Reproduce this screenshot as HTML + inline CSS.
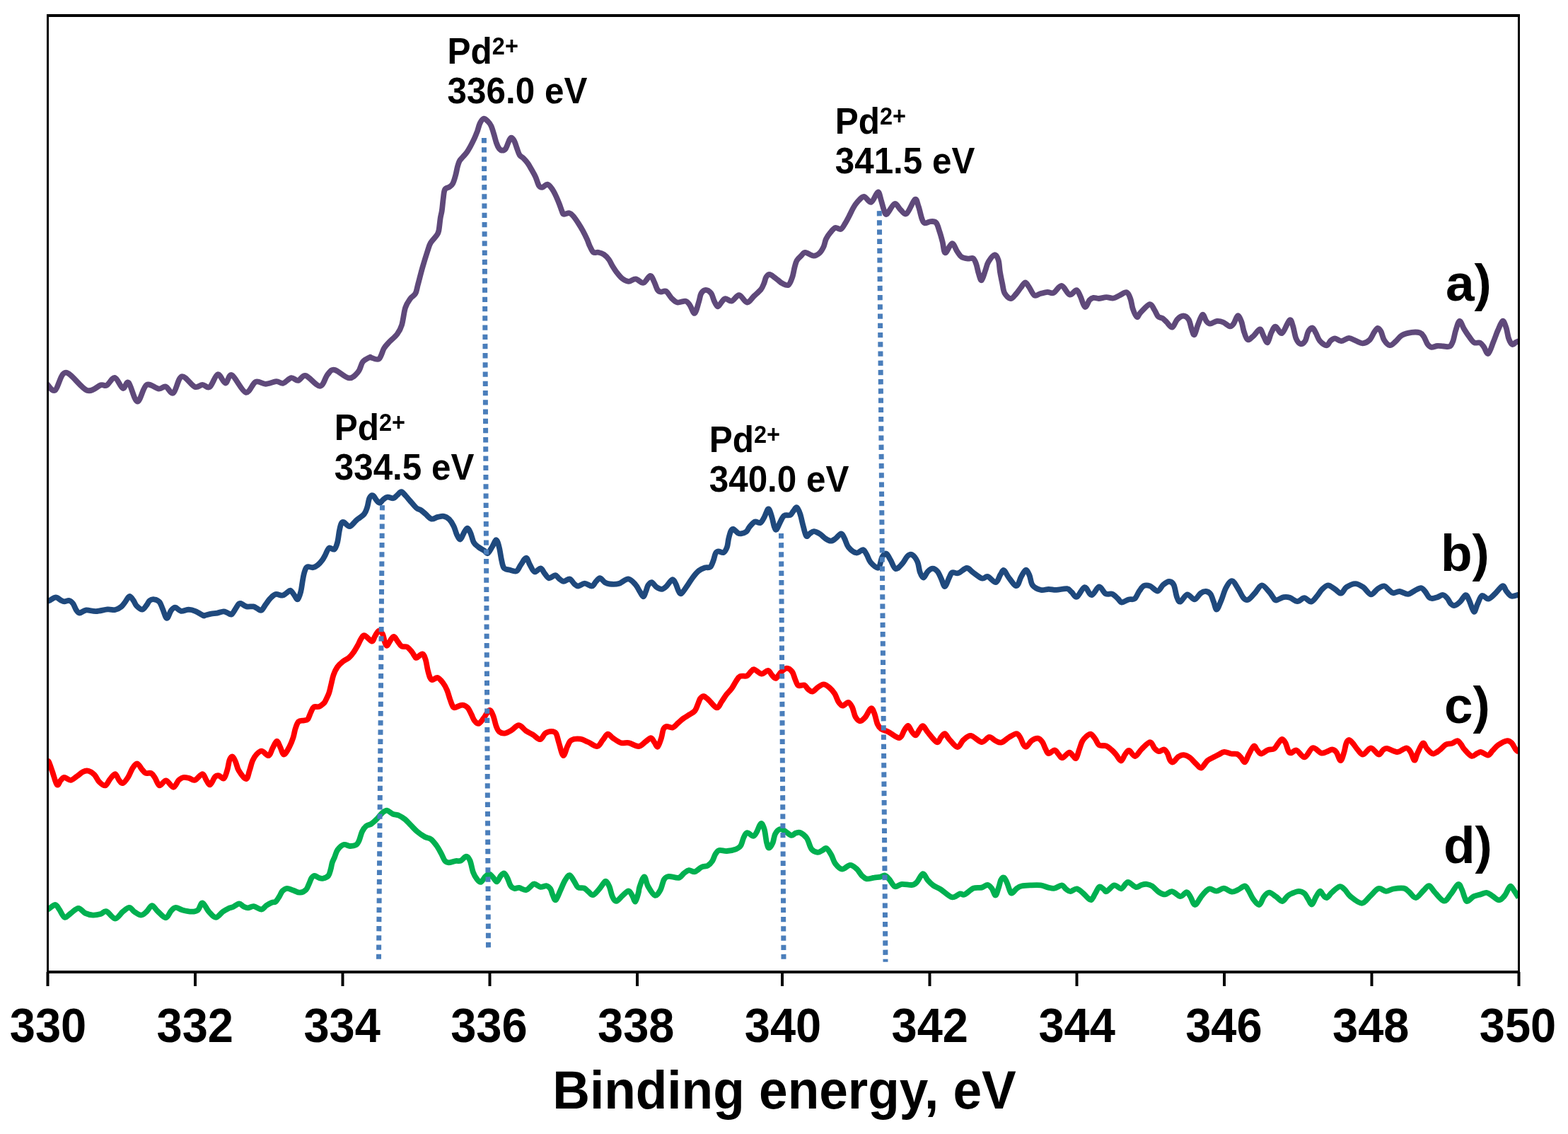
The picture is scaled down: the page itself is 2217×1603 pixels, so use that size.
<!DOCTYPE html>
<html><head><meta charset="utf-8"><title>XPS Pd 3d spectra</title>
<style>html,body{margin:0;padding:0;background:#fff;overflow:hidden;}svg{display:block;}.t{font-family:"Liberation Sans",Arial,sans-serif;font-weight:bold;}</style>
</head><body>
<svg width="2217" height="1603" viewBox="0 0 2217 1603">
<rect width="2217" height="1603" fill="#fff"/>
<path d="M66.5,542.8 C68.4,544.3 73.5,554.4 77.9,551.7 C82.3,549.0 85.5,526.7 93.0,526.7 C100.5,526.7 114.6,548.8 122.8,551.7 C131.0,554.7 137.6,545.6 142.3,544.4 C147.0,543.2 147.7,546.4 151.0,544.6 C154.3,542.9 158.5,533.2 162.3,533.9 C166.1,534.6 170.4,547.7 173.7,548.9 C176.9,550.1 178.4,537.8 181.8,540.9 C185.2,544.0 190.0,567.2 194.2,567.7 C198.4,568.2 202.1,547.2 207.2,544.2 C212.2,541.2 220.0,549.2 224.5,549.6 C229.0,550.0 230.9,545.5 234.3,546.5 C237.7,547.5 241.3,557.8 245.1,555.4 C248.9,553.0 251.9,533.6 257.0,532.2 C262.1,530.8 270.5,544.9 275.4,546.8 C280.3,548.7 282.8,543.8 286.3,543.8 C289.8,543.8 292.9,549.5 296.5,547.1 C300.1,544.7 304.2,530.2 307.9,529.3 C311.6,528.4 315.4,541.3 318.7,541.5 C322.0,541.7 323.1,528.1 327.9,530.3 C332.7,532.5 341.8,553.1 347.4,554.7 C353.0,556.3 356.7,541.8 361.4,539.8 C366.1,537.8 370.6,542.9 375.5,542.8 C380.4,542.7 386.6,539.4 390.7,539.2 C394.8,539.0 396.9,542.6 400.4,541.7 C403.9,540.9 408.3,534.7 411.8,534.1 C415.3,533.5 418.1,538.4 421.5,537.9 C424.9,537.4 427.2,529.8 432.4,531.1 C437.5,532.4 447.3,546.1 452.4,545.8 C457.5,545.5 459.8,533.1 463.2,529.3 C466.6,525.5 467.9,521.9 473.0,522.8 C478.1,523.6 487.9,533.9 493.5,534.4 C499.1,534.9 503.2,529.3 506.5,525.5 C509.8,521.7 510.3,514.8 513.0,511.4 C515.7,508.0 520.8,506.1 522.7,505.1 C524.6,504.1 522.1,504.9 524.3,505.3 C526.5,505.7 532.7,509.6 535.8,507.4 C538.9,505.2 540.6,496.2 543.0,492.3 C545.4,488.4 547.0,487.0 550.1,483.7 C553.2,480.4 558.6,476.4 561.6,472.3 C564.6,468.2 566.2,465.5 568.1,459.3 C570.0,453.1 571.1,441.2 573.1,435.0 C575.1,428.8 577.9,425.4 580.3,422.0 C582.7,418.6 585.6,418.2 587.4,414.9 C589.2,411.6 589.3,408.2 591.0,402.0 C592.7,395.8 595.2,385.5 597.5,377.6 C599.8,369.7 602.7,360.4 604.6,354.6 C606.5,348.9 606.8,346.8 609.0,343.1 C611.2,339.4 615.7,335.3 617.6,332.4 C619.5,329.5 619.6,329.8 620.4,325.9 C621.2,321.9 621.9,313.4 622.6,308.7 C623.3,304.0 624.1,302.4 624.8,297.8 C625.5,293.2 626.0,286.0 626.7,281.0 C627.4,276.0 627.5,270.7 629.0,267.9 C630.5,265.1 633.7,265.6 635.6,264.2 C637.5,262.8 638.8,262.1 640.2,259.5 C641.6,256.9 642.9,252.2 644.0,248.3 C645.1,244.4 645.9,239.5 646.8,236.1 C647.7,232.7 648.4,230.0 649.6,227.7 C650.9,225.3 652.6,224.0 654.3,222.0 C656.0,220.0 658.0,218.2 659.9,215.5 C661.8,212.8 663.6,209.5 665.5,206.1 C667.4,202.7 669.5,198.3 671.1,194.9 C672.7,191.5 673.6,189.0 674.9,185.6 C676.1,182.2 677.1,177.3 678.6,174.3 C680.1,171.3 681.8,168.3 683.7,167.8 C685.6,167.3 688.0,169.8 689.8,171.5 C691.6,173.2 693.1,175.1 694.5,178.1 C695.9,181.1 697.0,185.2 698.2,189.3 C699.5,193.4 700.8,199.0 702.0,202.4 C703.2,205.8 704.3,208.2 705.7,209.9 C707.1,211.6 708.8,212.7 710.4,212.7 C712.0,212.7 713.5,212.2 715.1,209.9 C716.7,207.6 718.5,201.2 719.8,198.7 C721.1,196.2 721.8,194.5 723.0,194.7 C724.2,194.8 726.0,197.1 727.3,199.6 C728.6,202.1 729.8,206.6 731.0,209.9 C732.2,213.2 733.1,216.9 734.7,219.2 C736.3,221.5 738.5,222.0 740.4,223.9 C742.3,225.8 744.1,227.8 746.0,230.5 C747.9,233.2 749.7,236.5 751.6,239.8 C753.5,243.1 755.5,246.3 757.2,250.1 C758.9,253.8 760.3,259.8 761.9,262.3 C763.5,264.8 764.6,265.2 766.6,264.9 C768.6,264.6 771.7,260.3 774.0,260.7 C776.3,261.1 778.6,264.2 780.6,267.0 C782.6,269.8 784.5,273.7 786.2,277.3 C787.9,280.9 789.5,284.9 790.9,288.5 C792.3,292.1 793.6,296.4 794.6,298.8 C795.6,301.2 795.3,302.4 797.0,302.8 C798.7,303.2 802.7,300.8 805.0,301.3 C807.3,301.8 808.9,303.6 811.0,306.0 C813.1,308.4 815.8,312.6 817.9,315.9 C820.0,319.2 821.9,322.2 823.9,325.9 C825.9,329.6 828.2,334.2 829.9,337.9 C831.6,341.6 832.4,344.8 833.9,347.9 C835.4,351.0 836.9,355.1 838.9,356.6 C840.9,358.1 843.4,356.3 845.9,356.8 C848.4,357.3 851.4,358.1 853.9,359.8 C856.4,361.5 858.8,364.1 860.8,366.8 C862.8,369.5 864.0,372.8 865.8,375.8 C867.6,378.8 869.5,381.8 871.8,384.8 C874.1,387.8 877.0,391.6 879.8,393.8 C882.6,396.0 885.6,397.7 888.8,397.8 C892.0,397.9 895.3,394.0 898.8,394.3 C902.3,394.6 906.3,400.6 909.7,399.8 C913.1,399.1 916.7,390.1 919.2,389.8 C921.7,389.5 923.0,394.5 924.7,397.8 C926.5,401.1 928.0,407.2 929.7,409.7 C931.4,412.2 932.7,412.4 934.7,412.7 C936.7,413.0 939.2,410.2 941.7,411.7 C944.2,413.2 947.1,419.1 949.7,421.7 C952.4,424.3 954.3,426.8 957.6,427.5 C960.9,428.2 966.6,425.0 969.6,425.7 C972.6,426.4 973.5,428.8 975.6,431.7 C977.7,434.6 980.1,443.6 982.2,442.8 C984.3,442.0 986.6,431.3 988.1,426.6 C989.6,421.9 989.8,417.5 991.4,414.7 C993.0,411.9 995.5,409.8 997.9,409.8 C1000.2,409.8 1003.5,412.1 1005.5,414.7 C1007.5,417.3 1008.3,422.4 1009.8,425.5 C1011.3,428.6 1012.9,433.1 1014.7,433.3 C1016.5,433.5 1018.8,428.5 1020.6,426.6 C1022.4,424.7 1023.1,422.3 1025.5,422.1 C1027.8,421.9 1031.5,426.3 1034.7,425.5 C1038.0,424.7 1041.4,416.9 1045.0,417.2 C1048.6,417.5 1052.8,427.3 1056.3,427.5 C1059.8,427.7 1062.8,421.5 1066.1,418.5 C1069.3,415.5 1073.4,412.3 1075.8,409.3 C1078.2,406.3 1078.9,403.6 1080.2,400.6 C1081.5,397.6 1082.0,393.5 1083.4,391.4 C1084.8,389.3 1086.1,387.3 1088.8,388.0 C1091.5,388.7 1096.7,393.6 1099.6,395.7 C1102.5,397.8 1103.6,399.4 1106.1,400.6 C1108.6,401.8 1112.4,404.2 1114.8,402.8 C1117.2,401.4 1118.8,396.1 1120.2,392.0 C1121.7,387.9 1122.4,381.9 1123.5,377.9 C1124.6,373.9 1125.1,370.9 1126.7,368.1 C1128.3,365.3 1131.2,363.0 1133.2,361.1 C1135.2,359.2 1135.7,356.7 1138.6,356.8 C1141.5,356.9 1147.1,361.6 1150.5,361.7 C1153.9,361.8 1156.9,359.5 1159.2,357.3 C1161.5,355.1 1163.1,351.9 1164.6,348.7 C1166.1,345.4 1166.4,341.1 1168.0,337.8 C1169.6,334.5 1171.8,331.4 1174.0,328.8 C1176.2,326.2 1178.5,322.8 1181.0,322.0 C1183.5,321.2 1186.6,324.9 1188.9,323.9 C1191.2,322.9 1192.9,319.1 1194.9,315.9 C1196.9,312.7 1199.1,308.4 1200.9,304.9 C1202.7,301.4 1204.1,298.1 1205.9,294.9 C1207.7,291.7 1209.3,288.7 1211.9,285.9 C1214.5,283.1 1218.1,278.0 1221.4,278.0 C1224.7,278.0 1228.5,286.8 1231.8,285.7 C1235.1,284.6 1239.0,271.9 1241.3,271.5 C1243.6,271.1 1244.4,278.8 1245.8,283.0 C1247.2,287.2 1248.5,293.6 1249.8,296.9 C1251.1,300.2 1251.3,304.1 1253.8,302.6 C1256.3,301.1 1261.6,289.2 1264.8,288.1 C1268.0,287.0 1270.0,293.6 1272.8,295.9 C1275.6,298.2 1278.2,304.4 1281.7,302.1 C1285.2,299.8 1290.9,283.6 1293.7,281.9 C1296.5,280.2 1297.0,287.2 1298.7,291.9 C1300.4,296.6 1302.2,306.0 1303.7,309.9 C1305.2,313.8 1305.7,314.9 1307.7,315.4 C1309.7,315.9 1313.1,313.2 1315.7,313.1 C1318.3,313.0 1321.4,312.4 1323.6,314.9 C1325.8,317.3 1327.1,323.3 1328.6,327.8 C1330.1,332.3 1331.3,336.9 1332.6,341.8 C1333.9,346.7 1334.3,356.9 1336.6,357.3 C1338.8,357.7 1343.3,344.4 1346.1,344.1 C1348.9,343.9 1351.3,352.6 1353.6,355.8 C1355.8,359.0 1357.1,361.7 1359.6,363.3 C1362.1,364.9 1365.7,365.4 1368.4,365.7 C1371.1,366.0 1374.0,363.9 1376.0,365.2 C1378.0,366.5 1379.0,369.8 1380.3,373.3 C1381.6,376.8 1382.3,382.5 1383.6,386.3 C1384.9,390.1 1386.3,397.0 1387.9,396.3 C1389.5,395.6 1391.7,386.4 1393.3,382.0 C1394.9,377.6 1395.4,373.6 1397.6,370.0 C1399.8,366.4 1403.9,360.7 1406.3,360.3 C1408.7,359.9 1410.4,363.9 1411.7,367.9 C1413.0,371.9 1413.0,378.7 1413.9,384.1 C1414.8,389.5 1416.0,395.3 1417.1,400.4 C1418.2,405.4 1418.4,410.8 1420.4,414.4 C1422.4,418.0 1426.3,422.0 1429.0,422.2 C1431.7,422.4 1434.2,418.1 1436.6,415.5 C1438.9,412.9 1440.9,409.6 1443.1,406.9 C1445.3,404.2 1447.6,399.5 1449.6,399.3 C1451.6,399.1 1452.8,402.8 1455.0,405.8 C1457.2,408.8 1459.9,416.0 1462.6,417.5 C1465.3,419.0 1468.1,415.8 1471.2,415.0 C1474.3,414.2 1477.9,413.0 1481.0,412.8 C1484.1,412.6 1486.3,415.4 1489.6,413.9 C1492.9,412.4 1497.2,403.6 1501.0,404.0 C1504.8,404.4 1508.9,415.6 1512.4,416.6 C1515.9,417.6 1519.6,409.7 1522.1,410.1 C1524.6,410.5 1525.5,414.8 1527.5,418.8 C1529.5,422.8 1531.8,433.0 1534.0,433.9 C1536.2,434.8 1538.5,426.4 1540.5,424.2 C1542.5,422.0 1543.8,421.3 1546.0,420.9 C1548.2,420.5 1550.5,422.1 1553.5,422.0 C1556.5,421.9 1560.9,420.2 1564.3,420.1 C1567.7,420.0 1571.0,421.9 1574.1,421.5 C1577.2,421.1 1579.5,419.1 1582.7,417.7 C1585.9,416.3 1590.4,412.5 1593.0,413.3 C1595.6,414.1 1597.0,418.6 1598.4,422.5 C1599.9,426.4 1600.2,432.2 1601.7,436.5 C1603.2,440.8 1605.8,447.2 1607.6,448.1 C1609.4,449.0 1609.5,445.0 1612.5,442.0 C1615.5,439.0 1622.2,430.8 1625.5,430.1 C1628.8,429.4 1630.0,434.7 1632.0,437.6 C1634.0,440.5 1635.4,445.3 1637.4,447.4 C1639.4,449.5 1641.9,448.8 1643.9,450.1 C1645.9,451.4 1647.0,452.9 1649.3,455.0 C1651.5,457.1 1654.9,463.2 1657.4,462.7 C1659.9,462.1 1661.8,454.4 1664.4,451.7 C1667.0,449.0 1670.4,446.5 1673.1,446.5 C1675.8,446.5 1678.7,448.5 1680.7,451.7 C1682.7,454.9 1683.7,462.2 1685.0,465.8 C1686.3,469.4 1687.3,474.2 1688.8,473.1 C1690.2,472.0 1691.8,464.0 1693.7,459.3 C1695.6,454.6 1698.2,445.6 1700.2,444.7 C1702.2,443.8 1703.8,451.7 1705.6,453.9 C1707.4,456.1 1708.5,457.7 1711.0,457.7 C1713.5,457.7 1717.6,454.3 1720.7,453.9 C1723.8,453.5 1726.3,454.2 1729.4,455.5 C1732.5,456.8 1736.6,461.1 1739.1,461.4 C1741.6,461.7 1742.7,459.6 1744.5,457.1 C1746.3,454.6 1748.2,446.7 1750.0,446.3 C1751.8,445.9 1754.0,451.4 1755.4,455.0 C1756.8,458.6 1757.2,463.7 1758.6,467.9 C1760.0,472.1 1761.7,479.0 1764.0,480.1 C1766.3,481.2 1769.8,476.8 1772.7,474.4 C1775.6,472.0 1779.1,465.3 1781.4,465.5 C1783.8,465.7 1785.0,472.4 1786.8,475.5 C1788.6,478.6 1790.4,485.1 1792.2,484.2 C1794.0,483.3 1795.7,473.9 1797.6,470.1 C1799.5,466.4 1801.0,461.6 1803.5,461.7 C1806.0,461.8 1809.4,472.4 1812.7,470.9 C1816.0,469.4 1820.7,454.1 1823.3,452.5 C1825.9,450.9 1826.6,456.8 1828.1,461.1 C1829.6,465.4 1830.7,474.3 1832.5,478.5 C1834.3,482.7 1836.8,485.7 1839.0,486.2 C1841.2,486.7 1843.7,484.6 1845.5,481.7 C1847.3,478.8 1848.1,471.7 1849.8,468.7 C1851.5,465.7 1854.0,463.1 1855.8,463.5 C1857.6,463.9 1858.9,467.9 1860.6,470.9 C1862.3,473.9 1863.5,478.8 1866.0,481.7 C1868.5,484.6 1873.3,488.4 1875.8,488.4 C1878.3,488.4 1879.2,483.4 1881.2,481.7 C1883.2,480.0 1885.2,478.2 1887.7,478.3 C1890.2,478.4 1893.0,482.3 1896.3,482.2 C1899.5,482.1 1903.8,478.0 1907.2,477.9 C1910.6,477.8 1913.7,480.5 1916.9,481.7 C1920.2,482.9 1923.5,485.5 1926.7,485.3 C1930.0,485.1 1933.7,483.2 1936.4,480.6 C1939.1,478.0 1941.0,472.6 1942.9,469.8 C1944.8,467.0 1946.2,464.0 1947.8,463.8 C1949.4,463.6 1951.1,465.9 1952.6,468.7 C1954.1,471.5 1954.9,477.4 1957.0,480.6 C1959.1,483.9 1962.4,487.8 1965.1,488.2 C1967.8,488.6 1970.4,485.1 1973.2,482.8 C1976.0,480.5 1978.1,476.2 1981.9,474.1 C1985.7,472.0 1991.8,470.5 1996.1,469.9 C2000.4,469.3 2004.9,469.5 2007.8,470.5 C2010.7,471.5 2011.4,473.2 2013.2,475.9 C2015.0,478.6 2016.8,484.3 2018.6,486.8 C2020.4,489.3 2021.7,490.4 2024.0,490.8 C2026.3,491.2 2029.3,489.2 2032.2,489.0 C2035.1,488.8 2038.2,489.4 2041.2,489.5 C2044.2,489.6 2047.9,490.9 2050.2,489.5 C2052.4,488.1 2053.3,485.1 2054.7,481.3 C2056.0,477.5 2056.8,471.5 2058.3,466.9 C2059.8,462.3 2061.7,454.1 2063.7,453.8 C2065.7,453.5 2067.8,461.4 2070.1,465.1 C2072.4,468.8 2074.9,472.7 2077.3,475.9 C2079.7,479.1 2081.9,482.9 2084.5,484.3 C2087.1,485.7 2090.3,483.5 2092.6,484.5 C2094.8,485.5 2096.1,487.8 2098.0,490.4 C2099.9,492.9 2102.0,501.0 2104.3,499.8 C2106.6,498.6 2109.3,488.6 2111.6,483.1 C2113.9,477.6 2115.7,471.8 2117.9,466.9 C2120.1,462.0 2122.7,454.4 2124.6,453.8 C2126.5,453.2 2128.2,459.2 2129.6,463.3 C2131.0,467.4 2131.8,474.7 2133.2,478.6 C2134.6,482.5 2136.5,486.0 2138.2,486.9 C2139.8,487.8 2141.6,484.8 2143.1,484.0 C2144.6,483.2 2146.5,482.5 2147.2,482.2" fill="none" stroke="#5F497A" stroke-width="7.8" stroke-linejoin="round" stroke-linecap="butt"/>
<path d="M66.5,850.1 C67.2,849.8 68.7,849.4 70.8,848.4 C72.9,847.4 76.4,844.4 78.9,844.4 C81.4,844.4 84.0,847.4 86.0,848.4 C88.0,849.4 88.9,850.2 90.9,850.3 C92.9,850.4 95.8,848.5 97.9,849.0 C100.0,849.5 101.7,851.1 103.3,853.3 C104.9,855.5 106.1,859.8 107.6,862.0 C109.1,864.2 110.2,866.4 112.5,866.5 C114.8,866.6 117.8,862.9 121.7,862.5 C125.6,862.1 130.8,864.3 135.8,864.1 C140.9,863.9 147.5,861.8 152.0,861.4 C156.5,861.0 159.6,862.6 162.8,862.0 C166.1,861.4 169.2,859.4 171.5,857.6 C173.8,855.8 175.0,853.5 176.9,851.1 C178.8,848.7 180.9,843.4 182.9,843.0 C184.9,842.6 187.1,846.8 188.8,849.0 C190.5,851.2 191.1,854.4 193.2,856.5 C195.3,858.6 199.0,861.9 201.3,861.7 C203.6,861.5 205.5,857.6 207.2,855.5 C208.9,853.4 209.8,850.4 211.6,849.0 C213.4,847.6 215.8,846.9 218.1,847.3 C220.4,847.6 223.6,848.8 225.6,851.1 C227.6,853.4 228.3,857.1 230.0,860.9 C231.7,864.7 233.9,873.5 235.9,873.9 C237.9,874.2 239.9,865.5 241.9,863.0 C243.9,860.5 245.5,858.6 247.8,858.7 C250.1,858.8 252.7,863.3 255.9,863.8 C259.1,864.3 263.4,861.7 266.8,861.7 C270.2,861.8 273.1,862.7 276.5,864.1 C279.9,865.5 285.1,869.1 287.3,870.1 C289.6,871.1 288.1,870.3 290.0,869.9 C291.9,869.5 295.8,868.2 298.7,867.7 C301.6,867.2 304.4,867.2 307.3,866.6 C310.2,866.0 313.6,864.5 316.0,864.4 C318.4,864.3 319.5,865.4 321.4,866.1 C323.3,866.8 325.3,869.5 327.3,868.5 C329.3,867.5 331.6,862.6 333.3,860.1 C335.0,857.6 336.3,854.8 337.6,853.6 C338.9,852.4 339.1,852.5 340.9,853.1 C342.7,853.7 345.6,856.7 348.5,857.4 C351.4,858.1 355.7,856.9 358.2,857.4 C360.7,857.9 361.7,859.2 363.6,860.1 C365.5,861.0 367.6,863.7 369.6,862.8 C371.6,861.9 373.4,857.5 375.5,854.7 C377.6,851.9 379.6,848.4 382.0,846.0 C384.4,843.6 386.7,840.8 389.6,840.1 C392.5,839.4 396.8,842.0 399.3,841.7 C401.8,841.4 402.9,839.7 404.8,838.5 C406.7,837.3 408.9,834.4 410.7,834.7 C412.5,835.1 413.9,838.5 415.6,840.6 C417.3,842.7 419.4,848.0 421.0,847.3 C422.6,846.6 424.2,840.3 425.3,836.3 C426.4,832.3 426.8,827.4 427.5,823.3 C428.2,819.1 428.8,814.8 429.7,811.4 C430.6,808.0 431.8,804.4 432.9,802.7 C434.0,801.0 434.5,801.2 436.1,801.1 C437.7,801.0 440.4,802.6 442.6,802.2 C444.8,801.8 446.9,800.6 449.1,798.9 C451.3,797.2 453.8,794.3 455.6,791.9 C457.4,789.5 458.4,787.2 460.0,784.3 C461.6,781.4 463.1,776.0 465.2,774.7 C467.3,773.4 470.7,777.9 472.7,776.5 C474.7,775.1 475.9,771.0 477.1,766.6 C478.3,762.2 478.9,754.8 479.8,750.4 C480.7,746.0 481.4,742.1 482.5,740.1 C483.6,738.1 484.3,737.5 486.3,738.2 C488.3,738.9 491.4,744.6 494.4,744.1 C497.4,743.6 500.7,738.1 504.1,735.2 C507.5,732.3 512.5,729.6 515.0,726.5 C517.5,723.4 518.0,720.6 519.3,716.8 C520.5,713.0 521.1,706.5 522.5,703.8 C523.9,701.1 525.8,699.8 527.4,700.4 C529.0,701.0 530.7,705.4 532.3,707.1 C533.9,708.9 535.5,711.1 537.1,710.9 C538.7,710.7 540.2,707.4 542.0,706.0 C543.8,704.6 545.6,703.0 548.0,702.7 C550.4,702.4 553.9,704.8 556.1,704.3 C558.4,703.8 559.6,701.5 561.5,700.0 C563.4,698.5 565.5,695.1 567.5,695.2 C569.5,695.3 571.3,698.5 573.4,700.6 C575.5,702.8 577.4,705.2 579.9,708.1 C582.4,711.0 586.1,715.7 588.6,717.9 C591.1,720.1 592.9,719.7 595.1,721.1 C597.3,722.5 599.1,724.4 601.6,726.5 C604.1,728.6 607.3,732.9 610.2,733.6 C613.1,734.3 616.0,731.5 618.9,730.9 C621.8,730.3 624.8,729.3 627.5,729.8 C630.2,730.3 632.8,731.8 635.1,734.1 C637.5,736.5 639.8,740.3 641.6,743.9 C643.4,747.5 644.4,752.7 645.9,755.8 C647.4,758.9 649.2,762.9 650.8,762.5 C652.4,762.1 654.1,756.2 655.7,753.6 C657.3,751.0 659.0,746.6 660.6,746.6 C662.2,746.6 663.9,750.3 665.4,753.6 C666.9,756.9 668.0,763.4 669.8,766.6 C671.6,769.9 673.8,771.1 676.3,773.1 C678.8,775.1 682.7,777.0 684.9,778.5 C687.1,780.0 687.8,783.0 689.7,782.0 C691.6,781.0 694.2,775.6 696.2,772.5 C698.2,769.4 700.1,762.9 701.7,763.3 C703.3,763.6 704.8,769.8 706.0,774.6 C707.2,779.4 708.1,787.3 709.2,792.0 C710.3,796.7 710.7,800.5 712.5,802.8 C714.3,805.0 717.1,804.8 720.1,805.5 C723.1,806.2 727.6,808.5 730.3,807.3 C733.0,806.1 734.0,801.6 736.3,798.5 C738.6,795.4 741.7,788.7 743.9,788.7 C746.1,788.7 747.3,795.2 749.3,798.5 C751.3,801.8 753.3,807.6 755.8,808.4 C758.3,809.2 762.0,803.0 764.4,803.3 C766.8,803.6 767.9,808.0 769.9,810.4 C771.9,812.8 773.8,816.9 776.3,817.4 C778.8,817.9 782.6,813.0 785.0,813.1 C787.4,813.2 788.4,816.4 790.4,817.9 C792.4,819.4 794.4,821.8 796.9,821.9 C799.4,822.0 803.1,817.9 805.6,818.5 C808.1,819.1 810.1,823.8 812.1,825.5 C814.1,827.2 815.1,828.6 817.5,828.5 C819.9,828.4 823.5,824.7 826.7,824.7 C830.0,824.7 834.4,828.9 837.0,828.5 C839.6,828.1 840.5,824.2 842.4,822.3 C844.3,820.4 846.1,817.0 848.3,817.2 C850.5,817.4 853.1,822.0 855.4,823.4 C857.7,824.8 858.6,825.2 861.9,825.5 C865.1,825.8 870.5,826.2 874.9,825.0 C879.3,823.8 884.4,818.0 888.4,818.3 C892.4,818.6 896.1,823.8 898.7,826.6 C901.3,829.4 902.3,832.5 904.1,835.3 C905.9,838.1 908.0,843.3 909.5,843.4 C911.0,843.5 912.1,838.7 913.2,836.1 C914.3,833.5 914.9,829.7 916.2,827.5 C917.6,825.4 919.4,822.7 921.4,823.1 C923.4,823.5 926.0,828.5 928.4,830.1 C930.8,831.7 933.6,833.1 936.0,832.8 C938.4,832.5 940.1,830.8 942.5,828.5 C944.9,826.2 948.4,819.8 950.6,819.3 C952.8,818.8 954.0,822.5 955.5,825.3 C957.0,828.1 958.4,833.9 959.8,836.1 C961.1,838.4 961.8,839.9 963.6,838.8 C965.4,837.7 968.0,833.3 970.6,829.6 C973.2,825.9 976.4,820.4 979.3,816.6 C982.2,812.8 985.0,809.2 987.9,806.9 C990.8,804.5 993.9,803.4 996.6,802.5 C999.3,801.6 1002.2,803.1 1004.2,801.5 C1006.2,799.9 1007.2,796.0 1008.5,792.8 C1009.8,789.5 1010.6,784.2 1011.8,782.0 C1013.0,779.8 1013.6,779.5 1015.5,779.3 C1017.4,779.1 1021.0,781.9 1023.1,780.9 C1025.2,779.9 1026.8,776.5 1028.0,773.3 C1029.2,770.0 1029.3,765.2 1030.2,761.4 C1031.1,757.6 1032.3,752.9 1033.4,750.6 C1034.5,748.4 1035.1,747.5 1036.7,747.9 C1038.3,748.3 1041.4,752.2 1043.2,753.3 C1045.0,754.4 1045.5,754.7 1047.5,754.4 C1049.5,754.1 1053.1,753.2 1055.1,751.7 C1057.1,750.2 1057.4,747.6 1059.4,745.2 C1061.4,742.9 1064.4,738.7 1067.0,737.6 C1069.6,736.5 1072.9,740.0 1075.2,738.9 C1077.5,737.8 1078.7,734.4 1080.6,731.1 C1082.5,727.9 1084.7,719.4 1086.5,719.4 C1088.3,719.4 1090.1,727.0 1091.4,731.1 C1092.8,735.2 1093.5,741.2 1094.6,744.1 C1095.7,747.0 1096.5,749.6 1097.9,748.5 C1099.4,747.4 1101.5,740.9 1103.3,737.6 C1105.1,734.4 1106.3,730.6 1108.7,729.0 C1111.1,727.4 1115.2,729.0 1117.4,727.9 C1119.6,726.8 1120.2,724.3 1121.7,722.5 C1123.2,720.7 1125.0,716.6 1126.6,717.3 C1128.2,718.0 1129.9,722.3 1131.4,726.8 C1132.9,731.3 1134.3,739.0 1135.8,744.1 C1137.2,749.2 1138.5,756.1 1140.1,757.7 C1141.7,759.3 1143.7,755.0 1145.5,753.9 C1147.3,752.8 1148.6,751.0 1150.9,751.2 C1153.2,751.4 1156.9,753.3 1159.6,755.0 C1162.3,756.7 1164.7,759.8 1167.2,761.4 C1169.7,763.0 1172.5,764.7 1174.8,764.7 C1177.1,764.7 1178.8,763.1 1181.2,761.4 C1183.6,759.7 1187.2,754.4 1189.4,754.4 C1191.6,754.4 1192.5,758.2 1194.2,761.4 C1195.9,764.6 1196.8,770.0 1199.6,773.4 C1202.4,776.8 1207.6,780.9 1211.0,781.5 C1214.4,782.1 1217.8,776.6 1220.2,777.1 C1222.6,777.6 1223.8,781.2 1225.6,784.2 C1227.4,787.2 1228.3,791.9 1231.0,795.0 C1233.7,798.1 1239.2,803.9 1241.9,802.6 C1244.6,801.3 1245.4,790.7 1247.3,787.4 C1249.2,784.1 1251.2,781.9 1253.2,782.6 C1255.2,783.3 1257.0,788.2 1259.2,791.8 C1261.4,795.4 1263.5,803.1 1266.2,804.0 C1268.9,804.9 1272.6,800.2 1275.4,797.2 C1278.2,794.2 1280.7,788.5 1283.0,786.3 C1285.3,784.1 1287.2,782.9 1289.5,784.2 C1291.8,785.5 1295.2,789.8 1297.1,793.9 C1299.0,798.0 1299.4,805.2 1300.8,809.0 C1302.2,812.8 1303.9,816.8 1305.7,816.6 C1307.5,816.4 1309.5,810.1 1311.7,807.9 C1313.9,805.7 1316.4,803.6 1318.7,803.6 C1321.0,803.6 1323.6,805.4 1325.7,807.9 C1327.8,810.4 1329.4,815.2 1331.1,818.7 C1332.8,822.2 1334.2,829.4 1336.0,829.0 C1337.8,828.6 1340.3,819.9 1342.0,816.6 C1343.7,813.3 1344.1,810.4 1346.3,809.3 C1348.5,808.2 1351.6,811.1 1355.0,810.1 C1358.4,809.1 1363.5,803.2 1366.9,803.0 C1370.3,802.8 1371.9,806.6 1375.5,809.0 C1379.1,811.4 1385.0,816.6 1388.5,817.6 C1392.0,818.6 1393.3,814.2 1396.6,815.1 C1399.8,816.0 1405.0,823.7 1408.0,823.2 C1411.0,822.7 1412.6,815.1 1414.5,812.2 C1416.4,809.4 1417.4,805.4 1419.4,806.1 C1421.4,806.8 1423.4,812.9 1426.4,816.6 C1429.4,820.3 1434.3,828.4 1437.2,828.2 C1440.1,828.0 1441.5,819.2 1443.7,815.5 C1445.9,811.8 1448.2,806.1 1450.2,805.7 C1452.2,805.3 1454.0,809.7 1455.6,813.3 C1457.2,816.9 1457.3,823.9 1460.0,827.4 C1462.7,830.9 1468.1,833.1 1471.9,834.0 C1475.7,834.9 1479.1,832.8 1482.7,832.8 C1486.3,832.8 1489.2,834.0 1493.5,833.9 C1497.8,833.8 1505.1,831.7 1508.7,832.2 C1512.3,832.7 1512.9,835.2 1515.2,837.1 C1517.5,839.0 1519.7,844.8 1522.7,843.6 C1525.8,842.4 1530.1,830.5 1533.5,830.1 C1536.9,829.7 1539.9,841.3 1543.3,841.2 C1546.7,841.1 1550.8,829.8 1554.1,829.5 C1557.4,829.2 1560.1,837.6 1563.3,839.3 C1566.5,841.0 1570.1,838.6 1573.0,839.8 C1575.9,841.0 1578.4,844.3 1580.6,846.3 C1582.8,848.2 1583.5,851.3 1586.0,851.5 C1588.5,851.7 1592.7,848.3 1595.8,847.4 C1598.9,846.5 1601.9,848.3 1604.4,846.3 C1606.9,844.3 1608.7,838.5 1610.9,835.5 C1613.1,832.5 1614.9,829.3 1617.4,828.1 C1619.9,826.9 1622.8,827.2 1626.1,828.4 C1629.3,829.6 1633.8,835.8 1636.9,835.5 C1640.0,835.2 1641.8,829.0 1644.5,826.8 C1647.2,824.5 1650.7,822.0 1653.2,822.0 C1655.7,822.0 1657.8,823.1 1659.6,826.8 C1661.4,830.5 1662.5,840.1 1664.0,844.1 C1665.5,848.1 1666.5,851.2 1668.9,850.6 C1671.3,850.0 1675.3,840.8 1678.6,840.3 C1681.9,839.8 1685.8,847.7 1688.9,847.4 C1692.1,847.1 1694.8,840.6 1697.5,838.7 C1700.2,836.8 1702.8,835.8 1705.1,836.0 C1707.4,836.2 1709.8,837.4 1711.6,839.8 C1713.4,842.2 1714.5,847.0 1715.9,850.6 C1717.4,854.2 1718.5,861.9 1720.3,861.5 C1722.1,861.1 1724.6,853.6 1726.8,848.5 C1729.0,843.4 1730.8,835.6 1733.3,831.1 C1735.8,826.6 1739.0,821.0 1741.9,821.2 C1744.8,821.4 1747.9,828.2 1750.6,832.2 C1753.3,836.2 1755.8,842.7 1758.2,845.2 C1760.6,847.8 1762.4,848.8 1765.2,847.5 C1768.0,846.2 1771.8,841.0 1774.9,837.6 C1778.1,834.2 1780.8,827.5 1784.1,827.3 C1787.3,827.1 1791.8,833.7 1794.4,836.5 C1797.0,839.3 1798.2,842.1 1799.8,844.1 C1801.4,846.1 1801.6,848.5 1804.1,848.5 C1806.6,848.5 1811.8,844.7 1815.0,844.1 C1818.2,843.5 1820.4,843.7 1823.6,844.7 C1826.8,845.7 1831.0,850.0 1834.4,850.1 C1837.8,850.2 1841.0,845.1 1844.2,845.2 C1847.5,845.3 1850.8,851.1 1853.9,850.6 C1857.0,850.1 1860.1,844.9 1862.6,842.0 C1865.1,839.1 1866.6,835.8 1869.1,833.3 C1871.6,830.8 1874.6,827.4 1877.7,827.3 C1880.8,827.2 1884.4,830.9 1887.5,832.8 C1890.6,834.7 1893.4,839.2 1896.1,838.7 C1898.8,838.2 1900.3,832.4 1903.7,830.1 C1907.1,827.9 1912.2,825.2 1916.2,825.2 C1920.2,825.2 1923.8,827.6 1927.5,830.1 C1931.2,832.6 1935.0,839.9 1938.4,840.3 C1941.8,840.6 1944.9,834.2 1948.1,832.2 C1951.2,830.2 1954.8,828.2 1957.3,828.4 C1959.8,828.6 1961.2,831.7 1963.3,833.3 C1965.4,834.9 1967.2,837.8 1969.8,838.2 C1972.4,838.7 1975.5,835.7 1979.0,836.0 C1982.5,836.3 1987.1,840.1 1990.7,839.9 C1994.3,839.7 1997.5,836.2 2000.6,834.7 C2003.7,833.2 2006.8,830.9 2009.2,831.1 C2011.6,831.3 2013.1,833.9 2015.0,836.1 C2016.9,838.3 2018.7,842.6 2020.4,844.2 C2022.1,845.9 2023.0,846.0 2025.0,846.0 C2027.0,846.0 2029.7,845.0 2032.2,844.2 C2034.8,843.4 2037.9,840.7 2040.3,841.0 C2042.7,841.3 2044.8,844.0 2046.6,846.0 C2048.4,848.0 2049.4,851.5 2051.1,853.2 C2052.8,854.9 2054.2,856.5 2056.5,856.0 C2058.8,855.5 2062.0,853.0 2064.6,850.5 C2067.2,848.0 2070.2,841.4 2072.3,841.1 C2074.4,840.8 2075.4,844.8 2077.3,848.7 C2079.2,852.6 2082.1,863.8 2084.0,864.7 C2085.9,865.6 2087.1,857.9 2089.0,854.1 C2090.9,850.3 2092.8,843.2 2095.3,842.0 C2097.9,840.8 2101.3,847.1 2104.3,846.7 C2107.3,846.3 2110.0,842.8 2113.4,839.7 C2116.8,836.6 2121.9,829.0 2124.6,828.2 C2127.3,827.5 2127.6,832.8 2129.6,835.2 C2131.6,837.6 2133.9,841.7 2136.8,842.6 C2139.7,843.5 2145.5,840.9 2147.2,840.6" fill="none" stroke="#1F497D" stroke-width="7.8" stroke-linejoin="round" stroke-linecap="butt"/>
<path d="M66.5,1076.0 C67.0,1076.2 67.9,1074.8 69.2,1077.3 C70.5,1079.8 72.2,1085.6 74.1,1090.9 C76.0,1096.2 78.6,1107.3 80.6,1109.3 C82.6,1111.3 84.3,1104.5 86.0,1102.8 C87.7,1101.1 88.6,1099.0 90.9,1099.0 C93.2,1099.0 97.1,1103.1 100.1,1102.8 C103.1,1102.5 105.8,1099.4 108.7,1097.4 C111.6,1095.4 114.7,1092.2 117.4,1090.9 C120.1,1089.6 122.3,1089.1 125.0,1089.8 C127.7,1090.5 131.1,1092.7 133.6,1095.2 C136.1,1097.7 137.6,1102.5 140.1,1105.0 C142.6,1107.5 146.3,1111.0 148.8,1110.4 C151.3,1109.9 153.0,1104.4 155.3,1101.7 C157.6,1099.0 160.6,1093.9 162.8,1094.1 C165.0,1094.3 166.5,1100.6 168.3,1102.8 C170.1,1105.0 171.5,1107.8 173.7,1107.1 C175.8,1106.4 178.9,1102.1 181.2,1098.5 C183.5,1094.9 185.5,1088.7 187.7,1085.5 C189.9,1082.3 192.0,1079.2 194.2,1079.5 C196.4,1079.8 198.7,1085.3 200.7,1087.6 C202.7,1089.8 203.9,1092.1 206.1,1093.0 C208.3,1093.9 211.5,1091.9 213.7,1093.0 C215.9,1094.1 217.1,1096.6 219.1,1099.5 C221.1,1102.4 223.0,1109.8 225.6,1110.4 C228.2,1111.0 231.6,1102.9 234.8,1103.3 C238.1,1103.7 242.1,1112.9 245.1,1112.8 C248.1,1112.7 250.3,1105.1 252.7,1102.8 C255.0,1100.5 256.7,1099.5 259.2,1099.0 C261.7,1098.5 265.1,1099.5 267.8,1100.1 C270.5,1100.7 272.3,1103.8 275.4,1102.8 C278.5,1101.8 283.6,1094.1 286.3,1094.1 C289.0,1094.1 289.9,1100.3 291.7,1102.8 C293.5,1105.3 295.0,1110.1 297.1,1109.3 C299.2,1108.5 302.0,1100.2 304.1,1098.0 C306.2,1095.8 307.4,1096.0 309.5,1096.4 C311.6,1096.8 314.5,1101.8 316.5,1100.4 C318.5,1099.1 320.0,1092.7 321.4,1088.3 C322.8,1083.9 323.3,1077.3 324.6,1074.2 C325.9,1071.1 327.6,1069.1 329.0,1069.6 C330.4,1070.1 331.9,1074.1 333.3,1077.4 C334.7,1080.7 335.2,1085.3 337.6,1089.3 C340.0,1093.3 345.4,1101.2 347.9,1101.2 C350.4,1101.2 351.3,1093.6 352.8,1089.3 C354.3,1085.0 355.5,1079.1 357.1,1075.3 C358.7,1071.5 360.3,1068.9 362.5,1066.6 C364.7,1064.3 367.2,1061.4 370.1,1061.7 C373.0,1062.0 377.4,1068.8 379.9,1068.2 C382.4,1067.6 383.4,1061.3 385.3,1057.9 C387.2,1054.5 389.4,1048.1 391.2,1047.7 C393.0,1047.3 394.4,1052.7 396.1,1055.8 C397.8,1058.9 399.3,1066.6 401.5,1066.6 C403.7,1066.6 406.9,1059.8 409.1,1055.8 C411.3,1051.8 413.1,1047.1 414.5,1042.8 C415.9,1038.5 416.4,1033.6 417.7,1029.8 C419.0,1026.0 420.1,1022.0 422.1,1020.1 C424.1,1018.2 427.4,1019.0 429.6,1018.4 C431.8,1017.8 433.5,1018.7 435.1,1016.8 C436.7,1014.9 438.0,1010.0 439.4,1007.1 C440.8,1004.2 441.7,1000.9 443.7,999.5 C445.7,998.1 448.9,999.8 451.3,998.9 C453.7,998.0 456.4,995.3 457.8,994.1 C459.2,992.9 458.5,993.9 459.7,991.5 C460.9,989.1 463.8,983.8 465.2,979.6 C466.6,975.5 467.3,970.9 468.4,966.6 C469.5,962.3 470.2,957.6 471.7,953.6 C473.1,949.6 475.0,945.9 477.1,942.8 C479.2,939.7 481.9,937.4 484.6,935.2 C487.3,933.0 490.8,932.0 493.3,929.8 C495.8,927.6 497.6,925.3 499.8,922.2 C502.0,919.1 504.5,914.6 506.3,911.4 C508.1,908.1 509.1,904.9 510.6,902.7 C512.1,900.5 513.0,897.6 515.5,898.2 C518.0,898.8 523.4,906.3 525.8,906.5 C528.2,906.7 528.5,902.0 530.1,899.5 C531.7,897.0 533.7,892.2 535.5,891.7 C537.3,891.2 539.4,893.5 540.9,896.2 C542.4,898.9 543.1,905.4 544.2,908.1 C545.3,910.8 546.0,913.2 547.4,912.5 C548.8,911.8 551.2,905.9 552.8,903.8 C554.4,901.7 555.6,899.5 557.2,900.0 C558.8,900.5 560.8,904.8 562.6,907.1 C564.4,909.4 565.8,912.4 568.0,913.6 C570.2,914.9 573.2,913.4 575.6,914.6 C578.0,915.9 580.3,918.9 582.1,921.1 C583.9,923.3 585.2,926.2 586.4,927.6 C587.6,929.0 587.3,930.3 589.1,929.8 C590.9,929.3 595.1,924.0 597.2,924.4 C599.3,924.8 600.3,928.2 601.6,932.0 C602.9,935.8 603.7,942.8 604.8,947.1 C605.9,951.4 606.9,955.5 608.0,957.9 C609.1,960.2 609.5,961.2 611.3,961.2 C613.1,961.2 616.4,957.3 618.9,958.0 C621.4,958.7 624.3,962.6 626.5,965.5 C628.7,968.4 630.3,971.5 631.9,975.3 C633.5,979.1 635.0,984.7 636.2,988.3 C637.5,991.9 638.3,994.9 639.4,996.9 C640.5,998.9 640.4,1000.3 642.7,1000.3 C645.1,1000.2 650.4,996.6 653.5,996.6 C656.6,996.6 658.9,998.0 661.1,1000.2 C663.3,1002.4 664.9,1006.8 666.5,1009.9 C668.1,1013.0 669.1,1016.4 670.8,1018.6 C672.5,1020.8 674.6,1023.5 676.8,1022.9 C679.0,1022.3 681.3,1018.4 683.8,1015.3 C686.3,1012.2 689.6,1004.7 691.9,1004.1 C694.1,1003.5 695.7,1007.9 697.3,1011.7 C698.9,1015.5 700.2,1023.0 701.7,1026.8 C703.2,1030.6 704.0,1032.8 706.0,1034.4 C708.0,1036.0 710.7,1037.0 713.6,1036.6 C716.5,1036.2 720.0,1034.1 723.3,1032.2 C726.6,1030.3 730.2,1025.0 733.6,1025.2 C737.0,1025.4 740.6,1031.0 743.9,1033.3 C747.2,1035.5 750.3,1036.7 753.6,1038.7 C756.9,1040.7 761.0,1045.6 763.9,1045.2 C766.8,1044.8 768.3,1038.5 770.9,1036.6 C773.5,1034.7 777.1,1033.8 779.6,1033.8 C782.1,1033.8 784.3,1033.8 786.1,1036.6 C787.9,1039.4 788.7,1045.4 790.4,1050.6 C792.1,1055.8 794.4,1067.3 796.4,1068.0 C798.4,1068.7 800.4,1058.6 802.3,1055.0 C804.2,1051.4 804.6,1048.0 807.7,1046.3 C810.8,1044.6 816.7,1044.2 820.7,1044.7 C824.7,1045.2 827.6,1047.3 831.6,1049.0 C835.6,1050.7 841.1,1055.5 844.5,1055.0 C847.9,1054.5 849.6,1049.2 852.1,1046.3 C854.6,1043.4 856.9,1038.1 859.2,1037.6 C861.6,1037.0 863.1,1040.9 866.2,1043.0 C869.4,1045.1 874.3,1048.9 878.1,1050.1 C881.9,1051.3 884.8,1049.3 888.9,1050.1 C893.0,1050.9 899.0,1055.3 903.0,1055.0 C907.0,1054.7 909.8,1050.5 912.7,1048.5 C915.6,1046.5 918.2,1043.0 920.3,1043.1 C922.4,1043.2 923.6,1047.0 925.2,1049.1 C926.8,1051.2 928.4,1056.5 930.0,1055.6 C931.6,1054.7 933.5,1047.8 934.9,1043.7 C936.2,1039.6 936.8,1033.5 938.1,1030.7 C939.4,1027.9 940.3,1027.3 942.5,1026.9 C944.7,1026.5 948.4,1029.3 951.1,1028.5 C953.8,1027.7 956.2,1024.2 958.7,1022.0 C961.2,1019.8 963.6,1017.5 966.3,1015.5 C969.0,1013.5 972.3,1011.9 975.0,1010.1 C977.7,1008.3 980.5,1007.2 982.5,1004.7 C984.5,1002.2 985.6,997.9 986.9,995.0 C988.2,992.1 988.8,989.2 990.1,987.4 C991.5,985.6 993.0,983.8 995.0,984.1 C997.0,984.5 998.9,986.8 1002.0,989.5 C1005.1,992.2 1010.3,1000.0 1013.4,1000.4 C1016.5,1000.8 1018.1,994.8 1020.4,991.7 C1022.6,988.6 1024.6,985.1 1026.9,982.0 C1029.2,978.9 1032.2,976.5 1034.5,973.3 C1036.8,970.0 1039.0,965.4 1041.0,962.5 C1043.0,959.6 1043.9,957.2 1046.4,956.0 C1048.9,954.8 1053.6,956.5 1056.1,955.4 C1058.6,954.3 1059.9,951.0 1061.6,949.5 C1063.3,948.0 1063.9,945.7 1066.4,946.2 C1068.9,946.7 1073.5,952.4 1076.7,952.7 C1080.0,953.0 1083.4,947.5 1085.9,947.9 C1088.4,948.3 1090.0,953.1 1091.9,954.9 C1093.8,956.7 1095.3,959.4 1097.3,958.7 C1099.3,958.0 1101.3,953.0 1103.8,950.6 C1106.3,948.2 1109.7,944.8 1112.4,944.6 C1115.1,944.4 1118.0,946.9 1120.0,949.5 C1122.0,952.1 1122.8,957.0 1124.3,960.3 C1125.8,963.5 1126.5,967.6 1128.7,969.0 C1130.9,970.4 1135.0,967.5 1137.3,968.4 C1139.6,969.3 1140.8,972.9 1142.7,974.4 C1144.6,975.9 1146.5,978.0 1148.7,977.6 C1151.0,977.2 1153.6,973.4 1156.2,971.7 C1158.8,970.0 1161.7,967.3 1164.4,967.3 C1167.1,967.3 1169.9,969.5 1172.5,971.7 C1175.1,973.9 1177.9,976.9 1180.1,980.3 C1182.3,983.7 1183.6,989.3 1185.5,992.2 C1187.4,995.1 1189.1,997.5 1191.4,997.6 C1193.7,997.7 1197.2,992.4 1199.5,992.8 C1201.8,993.2 1203.4,996.5 1205.0,999.8 C1206.6,1003.1 1207.5,1009.5 1209.3,1012.8 C1211.1,1016.0 1213.4,1019.1 1215.8,1019.3 C1218.2,1019.5 1220.8,1016.9 1223.4,1013.9 C1226.0,1010.9 1229.3,1002.3 1231.5,1001.4 C1233.7,1000.5 1234.8,1004.8 1236.3,1008.5 C1237.8,1012.2 1239.1,1019.9 1240.7,1023.6 C1242.3,1027.3 1243.6,1028.8 1246.1,1030.6 C1248.6,1032.4 1251.6,1032.3 1255.8,1034.4 C1260.0,1036.5 1267.7,1043.4 1271.5,1043.1 C1275.3,1042.8 1276.5,1035.2 1278.6,1032.3 C1280.7,1029.4 1282.2,1025.4 1284.0,1025.8 C1285.8,1026.2 1287.6,1032.2 1289.4,1034.4 C1291.2,1036.7 1293.0,1039.8 1294.8,1039.3 C1296.6,1038.8 1298.5,1033.4 1300.2,1031.2 C1301.9,1029.0 1303.1,1025.6 1305.1,1026.3 C1307.1,1027.0 1308.8,1031.7 1312.1,1035.5 C1315.3,1039.3 1321.5,1048.0 1324.6,1049.1 C1327.7,1050.2 1328.6,1044.0 1330.5,1042.0 C1332.4,1040.0 1333.9,1036.5 1335.9,1037.1 C1337.9,1037.6 1339.4,1042.1 1342.4,1045.3 C1345.4,1048.5 1350.5,1055.9 1353.8,1056.1 C1357.0,1056.3 1358.8,1049.0 1361.9,1046.3 C1365.1,1043.6 1368.4,1039.5 1372.7,1039.9 C1377.0,1040.4 1383.6,1048.7 1387.9,1049.0 C1392.2,1049.3 1395.4,1042.2 1398.7,1041.9 C1402.0,1041.6 1405.0,1046.0 1407.9,1047.3 C1410.8,1048.6 1412.9,1050.3 1416.0,1049.5 C1419.1,1048.7 1422.8,1044.6 1426.3,1042.5 C1429.8,1040.4 1434.4,1037.1 1437.1,1037.1 C1439.8,1037.1 1440.9,1040.0 1442.5,1042.5 C1444.1,1045.0 1445.5,1050.0 1446.9,1052.2 C1448.4,1054.4 1449.2,1056.4 1451.2,1055.5 C1453.2,1054.6 1456.1,1048.8 1458.8,1046.8 C1461.5,1044.8 1464.9,1043.2 1467.4,1043.6 C1469.9,1044.0 1472.1,1046.5 1473.9,1049.0 C1475.7,1051.5 1476.8,1056.0 1478.3,1058.7 C1479.8,1061.4 1480.4,1064.9 1482.6,1065.2 C1484.8,1065.5 1488.8,1060.1 1491.2,1060.3 C1493.6,1060.5 1494.9,1064.5 1496.7,1066.3 C1498.5,1068.1 1499.6,1071.7 1502.1,1071.2 C1504.6,1070.8 1509.3,1064.0 1511.8,1063.6 C1514.3,1063.1 1515.6,1067.2 1517.2,1068.5 C1518.8,1069.8 1520.1,1073.2 1521.6,1071.7 C1523.0,1070.2 1524.5,1063.8 1525.9,1059.8 C1527.3,1055.8 1528.6,1051.0 1530.2,1047.9 C1531.8,1044.8 1533.6,1043.1 1535.6,1041.4 C1537.6,1039.7 1539.9,1037.1 1542.1,1037.6 C1544.3,1038.1 1546.6,1042.0 1548.6,1044.6 C1550.6,1047.2 1551.5,1051.7 1554.0,1053.3 C1556.5,1054.9 1560.9,1053.3 1563.8,1054.4 C1566.7,1055.5 1569.1,1057.8 1571.4,1059.8 C1573.7,1061.8 1575.5,1063.7 1577.8,1066.3 C1580.0,1068.9 1582.7,1075.5 1584.9,1075.5 C1587.1,1075.5 1588.9,1068.7 1590.8,1066.3 C1592.7,1063.9 1593.9,1060.5 1596.3,1060.9 C1598.7,1061.4 1601.9,1069.3 1604.9,1069.0 C1607.9,1068.7 1610.6,1062.3 1614.1,1059.0 C1617.6,1055.7 1622.9,1049.4 1626.0,1049.2 C1629.1,1049.0 1630.4,1055.7 1632.5,1057.9 C1634.6,1060.1 1636.2,1061.9 1638.4,1062.2 C1640.7,1062.5 1643.9,1059.0 1646.0,1059.5 C1648.1,1060.0 1649.6,1063.1 1650.9,1065.5 C1652.2,1067.9 1652.8,1072.1 1654.1,1074.1 C1655.4,1076.1 1656.5,1078.1 1658.5,1077.4 C1660.5,1076.7 1663.5,1071.5 1666.0,1069.8 C1668.5,1068.1 1670.9,1066.9 1673.6,1067.1 C1676.3,1067.3 1679.4,1068.8 1682.3,1070.9 C1685.2,1073.0 1688.2,1077.1 1690.9,1079.5 C1693.6,1081.9 1695.8,1086.2 1698.5,1085.5 C1701.2,1084.8 1704.1,1077.8 1707.2,1075.2 C1710.3,1072.6 1714.2,1071.2 1716.9,1069.8 C1719.6,1068.3 1721.1,1067.7 1723.4,1066.5 C1725.8,1065.3 1728.1,1063.0 1731.0,1062.8 C1733.9,1062.6 1737.6,1065.0 1740.7,1065.5 C1743.8,1066.0 1747.1,1065.1 1749.4,1066.0 C1751.8,1066.9 1753.0,1069.0 1754.8,1070.9 C1756.6,1072.8 1758.4,1078.1 1760.2,1077.4 C1762.0,1076.7 1763.5,1070.3 1765.6,1066.5 C1767.7,1062.7 1770.7,1055.7 1772.7,1054.6 C1774.7,1053.5 1775.8,1058.3 1777.5,1060.1 C1779.2,1061.9 1780.5,1065.5 1783.0,1065.5 C1785.5,1065.5 1789.6,1061.3 1792.7,1060.1 C1795.8,1058.9 1799.1,1059.9 1801.4,1058.4 C1803.8,1057.0 1804.9,1053.7 1806.8,1051.4 C1808.7,1049.2 1810.9,1045.1 1812.7,1044.9 C1814.5,1044.7 1816.1,1047.4 1817.6,1050.3 C1819.1,1053.2 1820.6,1059.8 1821.9,1062.2 C1823.2,1064.6 1823.8,1064.7 1825.7,1064.4 C1827.6,1064.1 1830.2,1059.6 1833.3,1060.6 C1836.4,1061.6 1840.8,1070.8 1844.6,1070.3 C1848.4,1069.8 1852.1,1058.3 1856.0,1057.3 C1859.9,1056.3 1864.7,1063.5 1867.9,1064.4 C1871.2,1065.3 1872.9,1063.6 1875.5,1062.8 C1878.1,1062.0 1881.3,1059.4 1883.6,1059.5 C1885.9,1059.6 1887.5,1060.7 1889.5,1063.3 C1891.5,1065.9 1893.7,1075.2 1895.5,1075.2 C1897.3,1075.2 1899.1,1067.5 1900.4,1063.3 C1901.8,1059.1 1902.3,1053.2 1903.6,1050.3 C1904.8,1047.4 1906.3,1045.8 1907.9,1046.0 C1909.5,1046.2 1911.4,1049.1 1913.4,1051.4 C1915.4,1053.8 1917.6,1057.6 1919.9,1060.1 C1922.2,1062.6 1924.3,1067.0 1927.4,1066.5 C1930.5,1066.0 1934.7,1057.3 1938.3,1057.3 C1941.9,1057.3 1946.2,1066.0 1949.1,1066.5 C1952.0,1067.0 1953.6,1061.5 1955.6,1060.1 C1957.6,1058.7 1958.5,1057.6 1961.0,1057.9 C1963.5,1058.2 1968.0,1060.9 1970.7,1061.7 C1973.4,1062.5 1974.2,1063.5 1977.2,1062.8 C1980.2,1062.1 1985.7,1057.2 1988.6,1057.3 C1991.5,1057.4 1992.7,1060.4 1994.6,1063.3 C1996.5,1066.2 1998.4,1074.5 2000.0,1074.7 C2001.6,1074.9 2002.3,1068.4 2004.3,1064.4 C2006.3,1060.4 2009.7,1051.7 2011.9,1050.6 C2014.1,1049.5 2015.0,1055.4 2017.3,1057.9 C2019.6,1060.4 2022.9,1065.1 2026.0,1065.5 C2029.1,1065.9 2032.7,1062.3 2035.7,1060.1 C2038.8,1057.9 2041.4,1054.0 2044.3,1052.5 C2047.2,1051.0 2050.3,1051.8 2053.0,1050.9 C2055.7,1050.0 2058.4,1046.8 2060.6,1047.1 C2062.8,1047.4 2064.4,1050.5 2066.0,1052.5 C2067.6,1054.5 2067.9,1056.3 2070.3,1059.0 C2072.7,1061.7 2077.5,1067.7 2080.6,1068.7 C2083.7,1069.7 2086.4,1065.9 2088.7,1064.9 C2090.9,1064.0 2091.6,1062.5 2094.1,1063.0 C2096.6,1063.5 2101.2,1067.9 2103.9,1067.6 C2106.6,1067.3 2108.0,1063.5 2110.4,1061.1 C2112.8,1058.7 2115.1,1055.3 2118.5,1053.0 C2121.9,1050.7 2127.8,1047.5 2130.9,1047.1 C2134.1,1046.6 2135.4,1048.3 2137.4,1050.3 C2139.4,1052.3 2141.1,1056.8 2142.8,1059.0 C2144.5,1061.2 2146.9,1062.6 2147.7,1063.3" fill="none" stroke="#FF0000" stroke-width="7.8" stroke-linejoin="round" stroke-linecap="butt"/>
<path d="M66.5,1286.5 C67.2,1286.0 68.8,1284.5 70.8,1283.3 C72.8,1282.0 76.2,1278.6 78.4,1279.0 C80.6,1279.4 81.6,1282.5 83.8,1285.5 C86.0,1288.5 88.7,1295.9 91.4,1296.8 C94.1,1297.7 96.8,1293.1 100.1,1290.9 C103.3,1288.7 107.5,1283.8 110.9,1283.8 C114.3,1283.8 117.2,1289.3 120.6,1290.9 C124.0,1292.5 127.8,1293.4 131.4,1293.6 C135.0,1293.8 139.1,1292.9 142.3,1292.0 C145.5,1291.1 147.0,1287.1 150.4,1288.2 C153.8,1289.3 158.9,1298.4 162.8,1298.5 C166.7,1298.6 170.3,1291.3 173.7,1288.7 C177.0,1286.1 180.2,1282.8 182.9,1282.8 C185.6,1282.8 187.1,1286.9 189.9,1288.7 C192.7,1290.5 196.7,1293.6 199.6,1293.6 C202.5,1293.6 204.7,1291.0 207.2,1288.7 C209.7,1286.5 212.3,1280.3 214.8,1280.1 C217.3,1279.9 219.2,1284.7 222.4,1287.6 C225.7,1290.5 231.1,1297.4 234.3,1297.4 C237.6,1297.4 239.6,1290.0 241.9,1287.6 C244.2,1285.2 245.7,1283.0 248.4,1282.8 C251.1,1282.6 254.3,1285.5 258.1,1286.5 C261.9,1287.5 267.5,1288.7 271.1,1288.7 C274.7,1288.7 277.3,1288.6 279.8,1286.5 C282.3,1284.4 283.7,1275.9 286.3,1276.3 C288.9,1276.7 292.2,1285.4 295.4,1288.8 C298.5,1292.2 301.9,1296.9 305.2,1296.9 C308.4,1296.9 312.0,1290.9 314.9,1288.8 C317.8,1286.7 320.0,1285.6 322.5,1284.4 C325.0,1283.2 327.5,1282.9 330.1,1281.7 C332.7,1280.5 335.9,1277.5 338.2,1277.4 C340.5,1277.3 342.0,1280.2 344.1,1281.2 C346.2,1282.2 348.2,1283.4 350.6,1283.4 C353.0,1283.4 355.5,1280.9 358.7,1281.2 C361.9,1281.5 366.6,1285.7 369.6,1285.5 C372.6,1285.3 374.2,1281.7 376.6,1280.1 C379.0,1278.5 382.0,1276.7 384.2,1275.8 C386.4,1274.9 387.8,1276.2 389.6,1274.7 C391.4,1273.2 393.4,1269.6 395.0,1267.1 C396.6,1264.6 397.5,1261.4 399.3,1259.5 C401.1,1257.6 403.3,1256.0 405.8,1255.8 C408.3,1255.6 411.4,1257.5 414.5,1258.5 C417.6,1259.5 421.1,1261.9 424.2,1261.7 C427.3,1261.5 430.7,1259.6 432.9,1257.4 C435.1,1255.2 435.9,1251.4 437.2,1248.7 C438.5,1246.0 439.2,1242.9 440.5,1241.1 C441.8,1239.3 443.0,1237.9 444.8,1237.9 C446.6,1237.9 449.3,1240.5 451.3,1241.1 C453.3,1241.7 454.5,1242.2 456.7,1241.7 C458.9,1241.2 462.5,1240.0 464.3,1237.9 C466.1,1235.8 466.6,1232.3 467.5,1229.2 C468.4,1226.1 468.8,1222.4 469.7,1219.5 C470.6,1216.6 471.7,1214.9 473.0,1211.9 C474.3,1208.9 475.1,1204.4 477.3,1201.4 C479.5,1198.4 483.1,1194.8 486.0,1193.9 C488.9,1193.0 491.7,1195.9 494.6,1196.0 C497.5,1196.1 501.1,1195.7 503.3,1194.4 C505.5,1193.2 506.2,1191.7 507.6,1188.5 C509.1,1185.3 510.4,1178.9 512.0,1175.5 C513.6,1172.1 515.2,1169.7 517.4,1167.9 C519.6,1166.1 522.5,1166.2 525.0,1164.6 C527.5,1163.0 530.0,1160.6 532.5,1158.1 C535.0,1155.6 537.7,1151.6 540.1,1149.5 C542.5,1147.4 544.6,1145.5 547.1,1145.7 C549.6,1145.9 552.5,1149.4 555.3,1150.6 C558.1,1151.8 561.0,1151.5 563.9,1152.7 C566.8,1154.0 569.7,1155.8 572.6,1158.1 C575.5,1160.4 578.3,1163.9 581.2,1166.8 C584.1,1169.7 586.6,1172.8 589.9,1175.5 C593.1,1178.2 597.5,1181.2 600.7,1183.0 C604.0,1184.8 606.7,1184.3 609.4,1186.3 C612.1,1188.3 614.6,1191.8 617.0,1195.0 C619.4,1198.2 621.5,1202.2 623.5,1205.8 C625.5,1209.4 627.1,1214.3 628.9,1216.6 C630.7,1218.8 631.8,1219.2 634.3,1219.3 C636.8,1219.4 641.1,1217.5 644.0,1217.1 C646.9,1216.6 649.1,1217.7 651.6,1216.6 C654.1,1215.5 657.0,1210.6 659.2,1210.6 C661.4,1210.6 663.0,1212.9 664.6,1216.6 C666.2,1220.3 667.3,1228.5 668.9,1232.8 C670.5,1237.1 672.5,1240.2 674.3,1242.6 C676.1,1244.9 677.8,1247.5 679.8,1246.9 C681.8,1246.3 684.2,1241.1 686.2,1239.2 C688.2,1237.3 689.9,1235.2 691.7,1235.4 C693.5,1235.6 695.3,1238.5 697.1,1240.3 C698.9,1242.1 700.7,1246.8 702.5,1246.4 C704.3,1246.0 706.2,1240.1 707.9,1238.1 C709.6,1236.1 711.2,1233.9 712.8,1234.4 C714.4,1235.0 716.1,1238.4 717.6,1241.4 C719.1,1244.4 720.4,1249.8 722.0,1252.2 C723.6,1254.6 725.4,1255.5 727.4,1256.0 C729.4,1256.5 731.2,1254.5 733.9,1254.9 C736.6,1255.3 740.9,1258.5 743.6,1258.2 C746.3,1257.9 748.1,1254.8 750.1,1253.3 C752.1,1251.8 753.1,1249.4 755.5,1249.5 C757.9,1249.6 761.3,1253.3 764.2,1253.8 C767.1,1254.2 770.4,1251.8 772.8,1252.2 C775.1,1252.7 776.8,1254.3 778.3,1256.5 C779.8,1258.7 780.2,1262.6 781.5,1265.2 C782.8,1267.8 784.0,1273.3 785.8,1272.2 C787.6,1271.1 790.1,1263.3 792.3,1258.7 C794.5,1254.1 796.6,1248.2 798.8,1244.6 C801.0,1241.0 803.1,1236.9 805.3,1237.1 C807.5,1237.3 809.8,1242.8 811.8,1245.7 C813.8,1248.6 814.9,1252.8 817.2,1254.4 C819.6,1256.0 823.5,1254.6 825.9,1255.5 C828.2,1256.4 829.2,1258.2 831.3,1259.8 C833.4,1261.4 835.8,1265.6 838.3,1265.2 C840.8,1264.8 844.0,1260.3 846.5,1257.6 C849.0,1254.9 851.3,1251.0 853.0,1249.0 C854.7,1247.0 855.3,1245.0 856.7,1245.7 C858.1,1246.4 860.1,1249.7 861.6,1253.3 C863.1,1256.9 864.3,1264.0 865.9,1267.4 C867.5,1270.8 869.0,1274.1 871.4,1273.9 C873.8,1273.7 877.1,1268.7 880.0,1266.3 C882.9,1263.9 886.4,1259.3 888.7,1259.3 C891.1,1259.3 892.5,1263.8 894.1,1266.3 C895.7,1268.8 897.0,1275.1 898.4,1274.4 C899.8,1273.7 901.7,1265.4 902.7,1262.0 C903.7,1258.6 902.9,1257.7 904.3,1253.9 C905.6,1250.1 908.8,1239.5 910.8,1239.3 C912.8,1239.1 913.7,1248.4 916.2,1252.8 C918.7,1257.2 923.1,1264.9 926.0,1265.8 C928.9,1266.7 931.4,1262.1 933.6,1258.3 C935.8,1254.5 937.0,1246.3 939.0,1243.1 C941.0,1239.8 942.1,1239.2 945.5,1238.8 C948.9,1238.4 955.9,1241.6 959.5,1240.9 C963.1,1240.2 964.6,1236.2 967.1,1234.4 C969.6,1232.6 971.7,1230.4 974.2,1230.1 C976.7,1229.8 979.3,1233.0 982.3,1232.3 C985.3,1231.6 988.9,1227.2 992.0,1225.8 C995.1,1224.3 998.2,1225.0 1000.7,1223.6 C1003.2,1222.1 1005.4,1219.8 1007.2,1217.1 C1009.0,1214.4 1009.9,1209.9 1011.5,1207.4 C1013.1,1204.9 1014.2,1202.7 1016.9,1202.0 C1019.6,1201.3 1023.7,1203.3 1027.7,1203.0 C1031.7,1202.7 1037.5,1201.5 1040.7,1200.3 C1044.0,1199.0 1045.4,1198.3 1047.2,1195.5 C1049.0,1192.7 1050.1,1186.7 1051.6,1183.6 C1053.1,1180.5 1054.2,1177.4 1056.4,1177.1 C1058.7,1176.8 1062.8,1182.1 1065.1,1181.9 C1067.4,1181.7 1068.2,1179.0 1070.0,1176.0 C1071.8,1173.0 1074.1,1164.6 1075.9,1164.1 C1077.7,1163.5 1079.5,1168.2 1080.8,1172.7 C1082.1,1177.2 1082.9,1186.8 1084.0,1191.1 C1085.1,1195.4 1085.8,1198.7 1087.3,1198.7 C1088.8,1198.7 1091.3,1194.3 1092.7,1191.1 C1094.1,1187.8 1094.3,1182.3 1095.9,1179.2 C1097.5,1176.1 1100.1,1172.9 1102.4,1172.2 C1104.8,1171.5 1107.3,1173.5 1110.0,1174.9 C1112.7,1176.4 1116.2,1180.5 1118.7,1180.9 C1121.2,1181.4 1123.0,1178.2 1125.2,1177.6 C1127.4,1177.0 1129.1,1175.9 1131.7,1177.1 C1134.3,1178.3 1138.2,1181.1 1140.8,1184.9 C1143.4,1188.7 1144.8,1196.8 1147.3,1200.1 C1149.8,1203.4 1153.5,1204.6 1156.0,1204.9 C1158.5,1205.2 1160.4,1203.2 1162.5,1202.2 C1164.6,1201.2 1166.2,1197.9 1168.4,1199.0 C1170.6,1200.1 1173.4,1205.1 1175.5,1208.7 C1177.6,1212.3 1178.4,1217.3 1180.9,1220.6 C1183.4,1223.9 1187.1,1228.3 1190.6,1228.7 C1194.1,1229.1 1198.6,1222.9 1202.0,1222.8 C1205.4,1222.7 1208.4,1225.7 1211.2,1228.2 C1214.0,1230.7 1216.5,1235.6 1218.8,1237.9 C1221.1,1240.2 1222.4,1241.8 1225.3,1242.3 C1228.2,1242.8 1232.8,1241.0 1236.1,1240.6 C1239.3,1240.1 1242.3,1240.1 1244.8,1239.6 C1247.3,1239.1 1249.0,1236.8 1251.2,1237.4 C1253.4,1238.0 1255.4,1240.8 1257.7,1243.4 C1260.0,1246.0 1262.4,1252.0 1265.3,1253.1 C1268.2,1254.2 1270.9,1250.3 1275.1,1249.9 C1279.2,1249.5 1286.6,1251.5 1290.2,1250.9 C1293.8,1250.4 1294.3,1249.2 1296.7,1246.6 C1299.1,1244.0 1302.3,1235.6 1304.8,1235.2 C1307.3,1234.8 1309.5,1241.7 1311.9,1244.4 C1314.3,1247.1 1316.3,1249.3 1319.4,1251.5 C1322.5,1253.7 1325.9,1254.6 1330.3,1257.4 C1334.7,1260.2 1341.5,1267.3 1346.0,1268.3 C1350.5,1269.3 1354.3,1264.0 1357.3,1263.4 C1360.3,1262.8 1360.6,1265.8 1363.8,1264.5 C1367.0,1263.2 1372.2,1257.4 1376.2,1255.7 C1380.2,1254.0 1384.8,1255.4 1388.1,1254.6 C1391.4,1253.8 1393.9,1250.7 1396.3,1250.9 C1398.7,1251.1 1400.3,1253.3 1402.2,1255.7 C1404.1,1258.1 1406.0,1265.7 1407.6,1265.5 C1409.2,1265.3 1410.7,1258.2 1412.0,1254.6 C1413.3,1251.0 1414.0,1246.1 1415.2,1243.8 C1416.5,1241.5 1418.0,1239.9 1419.5,1240.6 C1421.0,1241.3 1422.5,1244.8 1423.9,1248.1 C1425.4,1251.3 1427.0,1257.7 1428.2,1260.1 C1429.4,1262.5 1429.3,1263.1 1430.9,1262.4 C1432.5,1261.7 1435.7,1257.4 1437.9,1255.7 C1440.2,1254.0 1441.2,1253.2 1444.4,1252.5 C1447.7,1251.8 1452.9,1251.6 1457.4,1251.4 C1461.9,1251.2 1467.3,1250.9 1471.5,1251.4 C1475.7,1251.9 1479.0,1253.9 1482.3,1254.6 C1485.5,1255.3 1487.8,1256.2 1491.0,1255.7 C1494.2,1255.2 1498.6,1251.2 1501.3,1251.4 C1504.0,1251.6 1505.1,1255.3 1507.2,1256.8 C1509.3,1258.2 1511.2,1260.2 1513.7,1260.1 C1516.2,1260.0 1519.5,1255.9 1522.4,1256.3 C1525.3,1256.7 1528.5,1260.1 1531.0,1262.2 C1533.5,1264.3 1535.5,1267.1 1537.5,1268.7 C1539.5,1270.3 1541.2,1272.9 1543.0,1272.0 C1544.8,1271.1 1546.5,1266.4 1548.4,1263.3 C1550.3,1260.2 1552.3,1254.7 1554.3,1253.6 C1556.3,1252.5 1558.6,1255.7 1560.3,1256.8 C1562.0,1257.9 1562.1,1261.0 1564.6,1260.1 C1567.1,1259.2 1572.0,1252.0 1575.4,1251.4 C1578.8,1250.8 1582.5,1256.7 1585.2,1256.3 C1587.9,1255.9 1589.9,1250.7 1591.7,1249.2 C1593.5,1247.7 1593.6,1246.3 1596.0,1247.1 C1598.4,1247.9 1603.2,1253.5 1606.2,1254.1 C1609.2,1254.7 1611.3,1251.6 1613.8,1250.9 C1616.3,1250.2 1618.9,1249.5 1621.4,1249.8 C1623.9,1250.1 1626.1,1250.6 1629.0,1252.5 C1631.9,1254.4 1635.6,1259.1 1638.7,1261.1 C1641.8,1263.1 1644.3,1264.6 1647.4,1264.4 C1650.5,1264.2 1653.5,1259.6 1657.1,1260.1 C1660.7,1260.5 1665.6,1266.9 1669.0,1267.1 C1672.4,1267.3 1675.4,1261.0 1677.7,1261.1 C1680.0,1261.2 1681.1,1264.6 1683.1,1267.6 C1685.1,1270.6 1687.1,1279.0 1689.6,1279.0 C1692.1,1279.0 1695.8,1270.8 1698.3,1267.6 C1700.8,1264.4 1702.6,1262.0 1704.7,1260.1 C1706.8,1258.2 1708.2,1256.4 1710.7,1256.3 C1713.2,1256.2 1716.7,1259.8 1719.9,1259.7 C1723.2,1259.6 1726.6,1255.6 1730.2,1255.7 C1733.8,1255.8 1738.3,1260.2 1741.6,1260.6 C1744.9,1261.0 1747.1,1259.2 1750.2,1257.9 C1753.3,1256.6 1757.5,1252.3 1760.0,1252.5 C1762.5,1252.7 1763.4,1255.9 1765.4,1259.0 C1767.4,1262.1 1769.4,1267.6 1771.9,1270.9 C1774.4,1274.2 1778.0,1279.5 1780.5,1279.0 C1783.0,1278.5 1784.7,1270.5 1787.0,1267.6 C1789.3,1264.7 1791.7,1261.7 1794.6,1261.7 C1797.5,1261.7 1801.2,1265.5 1804.3,1267.6 C1807.4,1269.7 1810.3,1274.3 1813.0,1274.1 C1815.7,1273.9 1818.3,1268.3 1820.6,1266.5 C1822.8,1264.7 1823.9,1264.1 1826.5,1263.0 C1829.1,1261.9 1833.2,1259.8 1836.2,1259.8 C1839.2,1259.8 1842.2,1261.2 1844.4,1263.0 C1846.6,1264.8 1847.5,1267.7 1849.2,1270.3 C1851.0,1272.9 1853.0,1278.9 1854.9,1278.5 C1856.8,1278.1 1858.7,1271.0 1860.6,1267.9 C1862.5,1264.8 1864.5,1260.2 1866.3,1259.8 C1868.0,1259.4 1869.5,1264.0 1871.1,1265.5 C1872.7,1267.0 1874.0,1269.8 1876.0,1269.1 C1878.0,1268.4 1880.3,1264.0 1883.3,1261.4 C1886.3,1258.8 1890.9,1254.0 1893.9,1253.3 C1896.9,1252.6 1898.6,1255.0 1901.2,1257.3 C1903.8,1259.6 1905.2,1263.8 1909.3,1267.1 C1913.3,1270.3 1920.8,1276.9 1925.5,1276.8 C1930.2,1276.7 1933.8,1269.8 1937.7,1266.3 C1941.6,1262.8 1945.4,1257.2 1949.1,1256.1 C1952.8,1255.0 1956.1,1259.7 1959.6,1259.8 C1963.1,1259.9 1966.0,1257.2 1970.2,1256.5 C1974.4,1255.8 1981.2,1255.0 1984.9,1255.7 C1988.6,1256.4 1989.4,1258.4 1992.2,1260.6 C1995.0,1262.8 1998.5,1269.4 2001.9,1269.1 C2005.3,1268.8 2009.4,1261.8 2012.5,1259.0 C2015.6,1256.2 2017.9,1251.7 2020.6,1252.1 C2023.3,1252.5 2025.2,1257.8 2028.7,1261.4 C2032.2,1265.0 2037.9,1273.2 2041.7,1273.6 C2045.5,1274.0 2048.1,1267.7 2051.4,1263.8 C2054.7,1259.9 2059.0,1251.1 2061.6,1250.0 C2064.2,1248.9 2065.3,1254.2 2066.9,1257.3 C2068.5,1260.4 2069.6,1265.9 2070.9,1268.7 C2072.2,1271.5 2072.4,1274.3 2074.6,1274.0 C2076.8,1273.7 2080.7,1268.7 2083.9,1267.1 C2087.1,1265.5 2090.7,1265.1 2093.7,1264.2 C2096.7,1263.3 2099.1,1261.5 2101.8,1261.8 C2104.5,1262.1 2106.9,1264.5 2109.9,1266.3 C2112.9,1268.1 2116.6,1272.5 2119.6,1272.4 C2122.6,1272.3 2125.2,1268.8 2127.8,1265.5 C2130.4,1262.2 2132.9,1254.0 2135.1,1252.9 C2137.3,1251.8 2138.8,1256.4 2140.8,1259.0 C2142.8,1261.6 2146.1,1267.1 2147.2,1268.7" fill="none" stroke="#00B050" stroke-width="7.8" stroke-linejoin="round" stroke-linecap="butt"/>
<rect x="0" y="20" width="67" height="1352" fill="#fff"/><rect x="2148" y="20" width="69" height="1352" fill="#fff"/>
<line x1="684.4" y1="195.0" x2="690.5" y2="1339.7" stroke="#4A7EBB" stroke-width="7" stroke-dasharray="7.3 5.922"/>
<line x1="1243.3" y1="298.1" x2="1252.0" y2="1359.8" stroke="#4A7EBB" stroke-width="7" stroke-dasharray="7.3 5.922"/>
<line x1="540.5" y1="714.1" x2="535.5" y2="1355.8" stroke="#4A7EBB" stroke-width="7" stroke-dasharray="7.3 5.922"/>
<line x1="1104.5" y1="753.9" x2="1108.0" y2="1355.8" stroke="#4A7EBB" stroke-width="7" stroke-dasharray="7.3 5.922"/>
<path d="M67.5,20V1376M2147.5,20V1376" stroke="#000" stroke-width="3" fill="none"/>
<path d="M66,22H2149M66,1374H2149" stroke="#000" stroke-width="4" fill="none"/>
<line x1="67.5" y1="1374" x2="67.5" y2="1394" stroke="#000" stroke-width="4"/>
<text transform="translate(68.0,1472.5) scale(1,1.050)" class="t" font-size="65" text-anchor="middle">330</text>
<line x1="276.0" y1="1374" x2="276.0" y2="1394" stroke="#000" stroke-width="4"/>
<text transform="translate(275.8,1472.5) scale(1,1.050)" class="t" font-size="65" text-anchor="middle">332</text>
<line x1="484.5" y1="1374" x2="484.5" y2="1394" stroke="#000" stroke-width="4"/>
<text transform="translate(483.6,1472.5) scale(1,1.050)" class="t" font-size="65" text-anchor="middle">334</text>
<line x1="692.5" y1="1374" x2="692.5" y2="1394" stroke="#000" stroke-width="4"/>
<text transform="translate(691.4,1472.5) scale(1,1.050)" class="t" font-size="65" text-anchor="middle">336</text>
<line x1="901.0" y1="1374" x2="901.0" y2="1394" stroke="#000" stroke-width="4"/>
<text transform="translate(899.2,1472.5) scale(1,1.050)" class="t" font-size="65" text-anchor="middle">338</text>
<line x1="1106.0" y1="1374" x2="1106.0" y2="1394" stroke="#000" stroke-width="4"/>
<text transform="translate(1107.0,1472.5) scale(1,1.050)" class="t" font-size="65" text-anchor="middle">340</text>
<line x1="1314.5" y1="1374" x2="1314.5" y2="1394" stroke="#000" stroke-width="4"/>
<text transform="translate(1314.8,1472.5) scale(1,1.050)" class="t" font-size="65" text-anchor="middle">342</text>
<line x1="1522.5" y1="1374" x2="1522.5" y2="1394" stroke="#000" stroke-width="4"/>
<text transform="translate(1522.6,1472.5) scale(1,1.050)" class="t" font-size="65" text-anchor="middle">344</text>
<line x1="1731.0" y1="1374" x2="1731.0" y2="1394" stroke="#000" stroke-width="4"/>
<text transform="translate(1730.4,1472.5) scale(1,1.050)" class="t" font-size="65" text-anchor="middle">346</text>
<line x1="1939.5" y1="1374" x2="1939.5" y2="1394" stroke="#000" stroke-width="4"/>
<text transform="translate(1938.2,1472.5) scale(1,1.050)" class="t" font-size="65" text-anchor="middle">348</text>
<line x1="2147.5" y1="1374" x2="2147.5" y2="1394" stroke="#000" stroke-width="4"/>
<text transform="translate(2146.0,1472.5) scale(1,1.050)" class="t" font-size="65" text-anchor="middle">350</text>
<text transform="translate(1109.0,1567.0) scale(1,1.050)" class="t" font-size="73" text-anchor="middle">Binding energy, eV</text>
<text transform="translate(632.6,90.0) scale(1,1.060)" class="t" font-size="49.5">Pd<tspan font-size="32.5" dy="-12.2">2+</tspan></text><text transform="translate(632.6,146.0) scale(1,1.063)" class="t" font-size="49.4">336.0 eV</text>
<text transform="translate(1180.7,188.8) scale(1,1.060)" class="t" font-size="49.5">Pd<tspan font-size="32.5" dy="-12.2">2+</tspan></text><text transform="translate(1180.7,244.8) scale(1,1.063)" class="t" font-size="49.4">341.5 eV</text>
<text transform="translate(472.7,622.0) scale(1,1.060)" class="t" font-size="49.5">Pd<tspan font-size="32.5" dy="-12.2">2+</tspan></text><text transform="translate(472.7,677.8) scale(1,1.063)" class="t" font-size="49.4">334.5 eV</text>
<text transform="translate(1002.7,638.8) scale(1,1.060)" class="t" font-size="49.5">Pd<tspan font-size="32.5" dy="-12.2">2+</tspan></text><text transform="translate(1002.7,694.6) scale(1,1.063)" class="t" font-size="49.4">340.0 eV</text>
<text transform="translate(2044.0,424.8) scale(1,1.000)" class="t" font-size="73">a)</text>
<text transform="translate(2037.0,806.8) scale(1,1.000)" class="t" font-size="73">b)</text>
<text transform="translate(2042.0,1022.3) scale(1,1.000)" class="t" font-size="73">c)</text>
<text transform="translate(2041.0,1219.7) scale(1,1.000)" class="t" font-size="73">d)</text>
</svg>
</body></html>
